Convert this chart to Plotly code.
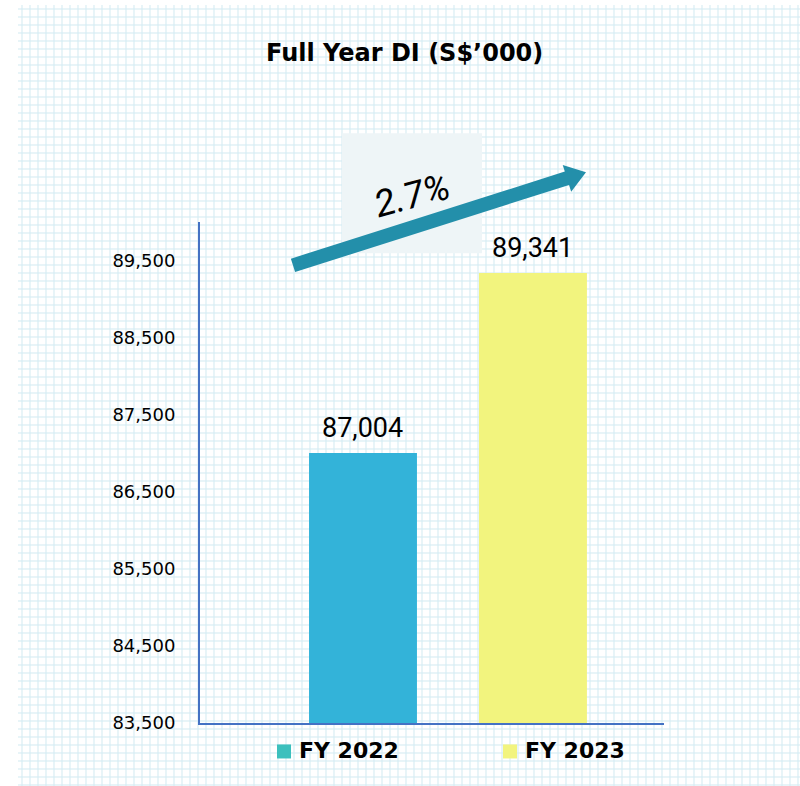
import plotly.graph_objects as go

# Chart data
years = ["FY 2022", "FY 2023"]
di_values = [87004, 89341]
bar_colors = ["#33B3D9", "#F2F47E"]
legend_colors = ["#3CC0BD", "#F2F47E"]
growth_label = "2.7%"
title_text = "Full Year DI (S$’000)"

W, H = 800, 786          # reference picture size (pixel grid used below)
FIG_H = 797              # layout height; the capture squeezes it back to 786
FONT = "DejaVu Sans"


def px(x):
    """pixel x -> paper x"""
    return x / W


def py(y):
    """pixel y (from top) -> paper y"""
    return 1 - y / H


fig = go.Figure()

# Background dotted grid (hidden helper axes, drawn first)
fig.add_trace(go.Bar(
    x=[0.5], y=[1], width=[1],
    marker=dict(
        color="white",
        line=dict(width=0),
        pattern=dict(shape="+", size=8, solidity=0.22,
                     fgcolor="#9FD3E3", bgcolor="white", fillmode="overlay"),
    ),
    hoverinfo="skip", showlegend=False,
    xaxis="x", yaxis="y",
))

# Main bars
for year, val, col in zip(years, di_values, bar_colors):
    fig.add_trace(go.Bar(
        x=[year], y=[val], width=0.635,
        marker=dict(color=col, line=dict(width=0)),
        name=year, showlegend=False,
        xaxis="x2", yaxis="y2",
    ))
    fig.add_annotation(
        x=year, y=val, xref="x2", yref="y2",
        text=f"{val:,}", showarrow=False,
        yanchor="bottom", yshift=7,
        font=dict(family="Roboto", size=27, color="black"),
    )

axis_blue = "#4472C4"
fig.update_layout(
    width=W, height=FIG_H,
    margin=dict(l=0, r=0, t=0, b=0),
    paper_bgcolor="white",
    plot_bgcolor="rgba(0,0,0,0)",
    barmode="overlay",
    showlegend=False,
    xaxis=dict(domain=[px(18), 1], range=[0, 1], visible=False, fixedrange=True),
    yaxis=dict(domain=[0, py(5)], range=[0, 1], visible=False, fixedrange=True),
    xaxis2=dict(
        domain=[px(200), px(664)], anchor="y2",
        range=[-0.959, 1.771],
        showticklabels=False, ticks="", showgrid=False, zeroline=False,
        showline=True, linecolor=axis_blue, linewidth=2,
    ),
    yaxis2=dict(
        domain=[py(722), py(222)], anchor="x2",
        range=[83500, 90000],
        tick0=83500, dtick=1000, tickformat=",d",
        ticks="", showgrid=False, zeroline=False,
        showline=True, linecolor=axis_blue, linewidth=2,
        ticklabelstandoff=19,
        tickfont=dict(family=FONT, size=18, color="black"),
    ),
)

# Title
fig.add_annotation(
    x=px(404), y=py(53), xref="paper", yref="paper",
    text=f"<b>{title_text}</b>", showarrow=False,
    xanchor="center", yanchor="middle",
    font=dict(family=FONT, size=24, color="black"),
)

# Light box behind the growth label
fig.add_shape(
    type="rect", xref="paper", yref="paper",
    x0=px(342), x1=px(482), y0=py(253), y1=py(133),
    fillcolor="#EEF5F7", line=dict(width=0),
)

# Growth arrow (thick shaft + head), built in pixel space
tail = (293.0, 265.0)
tip = (586.0, 172.0)
dx, dy = tip[0] - tail[0], tip[1] - tail[1]
length = (dx ** 2 + dy ** 2) ** 0.5
ux, uy = dx / length, dy / length
nx, ny = -uy, ux
half_shaft, head_len, half_head = 7.0, 20.0, 14.0
base = (tip[0] - ux * head_len, tip[1] - uy * head_len)
pts = [
    (tail[0] + nx * half_shaft, tail[1] + ny * half_shaft),
    (base[0] + nx * half_shaft, base[1] + ny * half_shaft),
    (base[0] + nx * half_head, base[1] + ny * half_head),
    tip,
    (base[0] - nx * half_head, base[1] - ny * half_head),
    (base[0] - nx * half_shaft, base[1] - ny * half_shaft),
    (tail[0] - nx * half_shaft, tail[1] - ny * half_shaft),
]
path = "M " + " L ".join(f"{px(x):.5f},{py(y):.5f}" for x, y in pts) + " Z"
fig.add_shape(type="path", xref="paper", yref="paper", path=path,
              fillcolor="#238FAA", line=dict(width=0))

fig.add_annotation(
    x=px(412), y=py(195), xref="paper", yref="paper",
    text=growth_label, showarrow=False, textangle=-15,
    xanchor="center", yanchor="middle",
    font=dict(family="Roboto", size=37, color="black", style="italic"),
)

# Legend drawn manually (legend swatches differ from bar fills)
legend_x = [277, 503]
for name, col, lx in zip(years, legend_colors, legend_x):
    fig.add_shape(
        type="rect", xref="paper", yref="paper",
        x0=px(lx), x1=px(lx + 14), y0=py(757.5), y1=py(743.5),
        fillcolor=col, line=dict(width=0),
    )
    fig.add_annotation(
        x=px(lx + 20), y=py(750), xref="paper", yref="paper",
        text=f"<b>{name}</b>", showarrow=False,
        xanchor="left", yanchor="middle",
        font=dict(family=FONT, size=22, color="black"),
    )

page_fix = (
    "var r=document.documentElement.style, b=document.body.style;"
    "r.margin=b.margin='0'; r.padding=b.padding='0';"
    "r.overflow=b.overflow='hidden';"
)
fig.write_html("out.html", config={"displayModeBar": False}, post_script=page_fix)
